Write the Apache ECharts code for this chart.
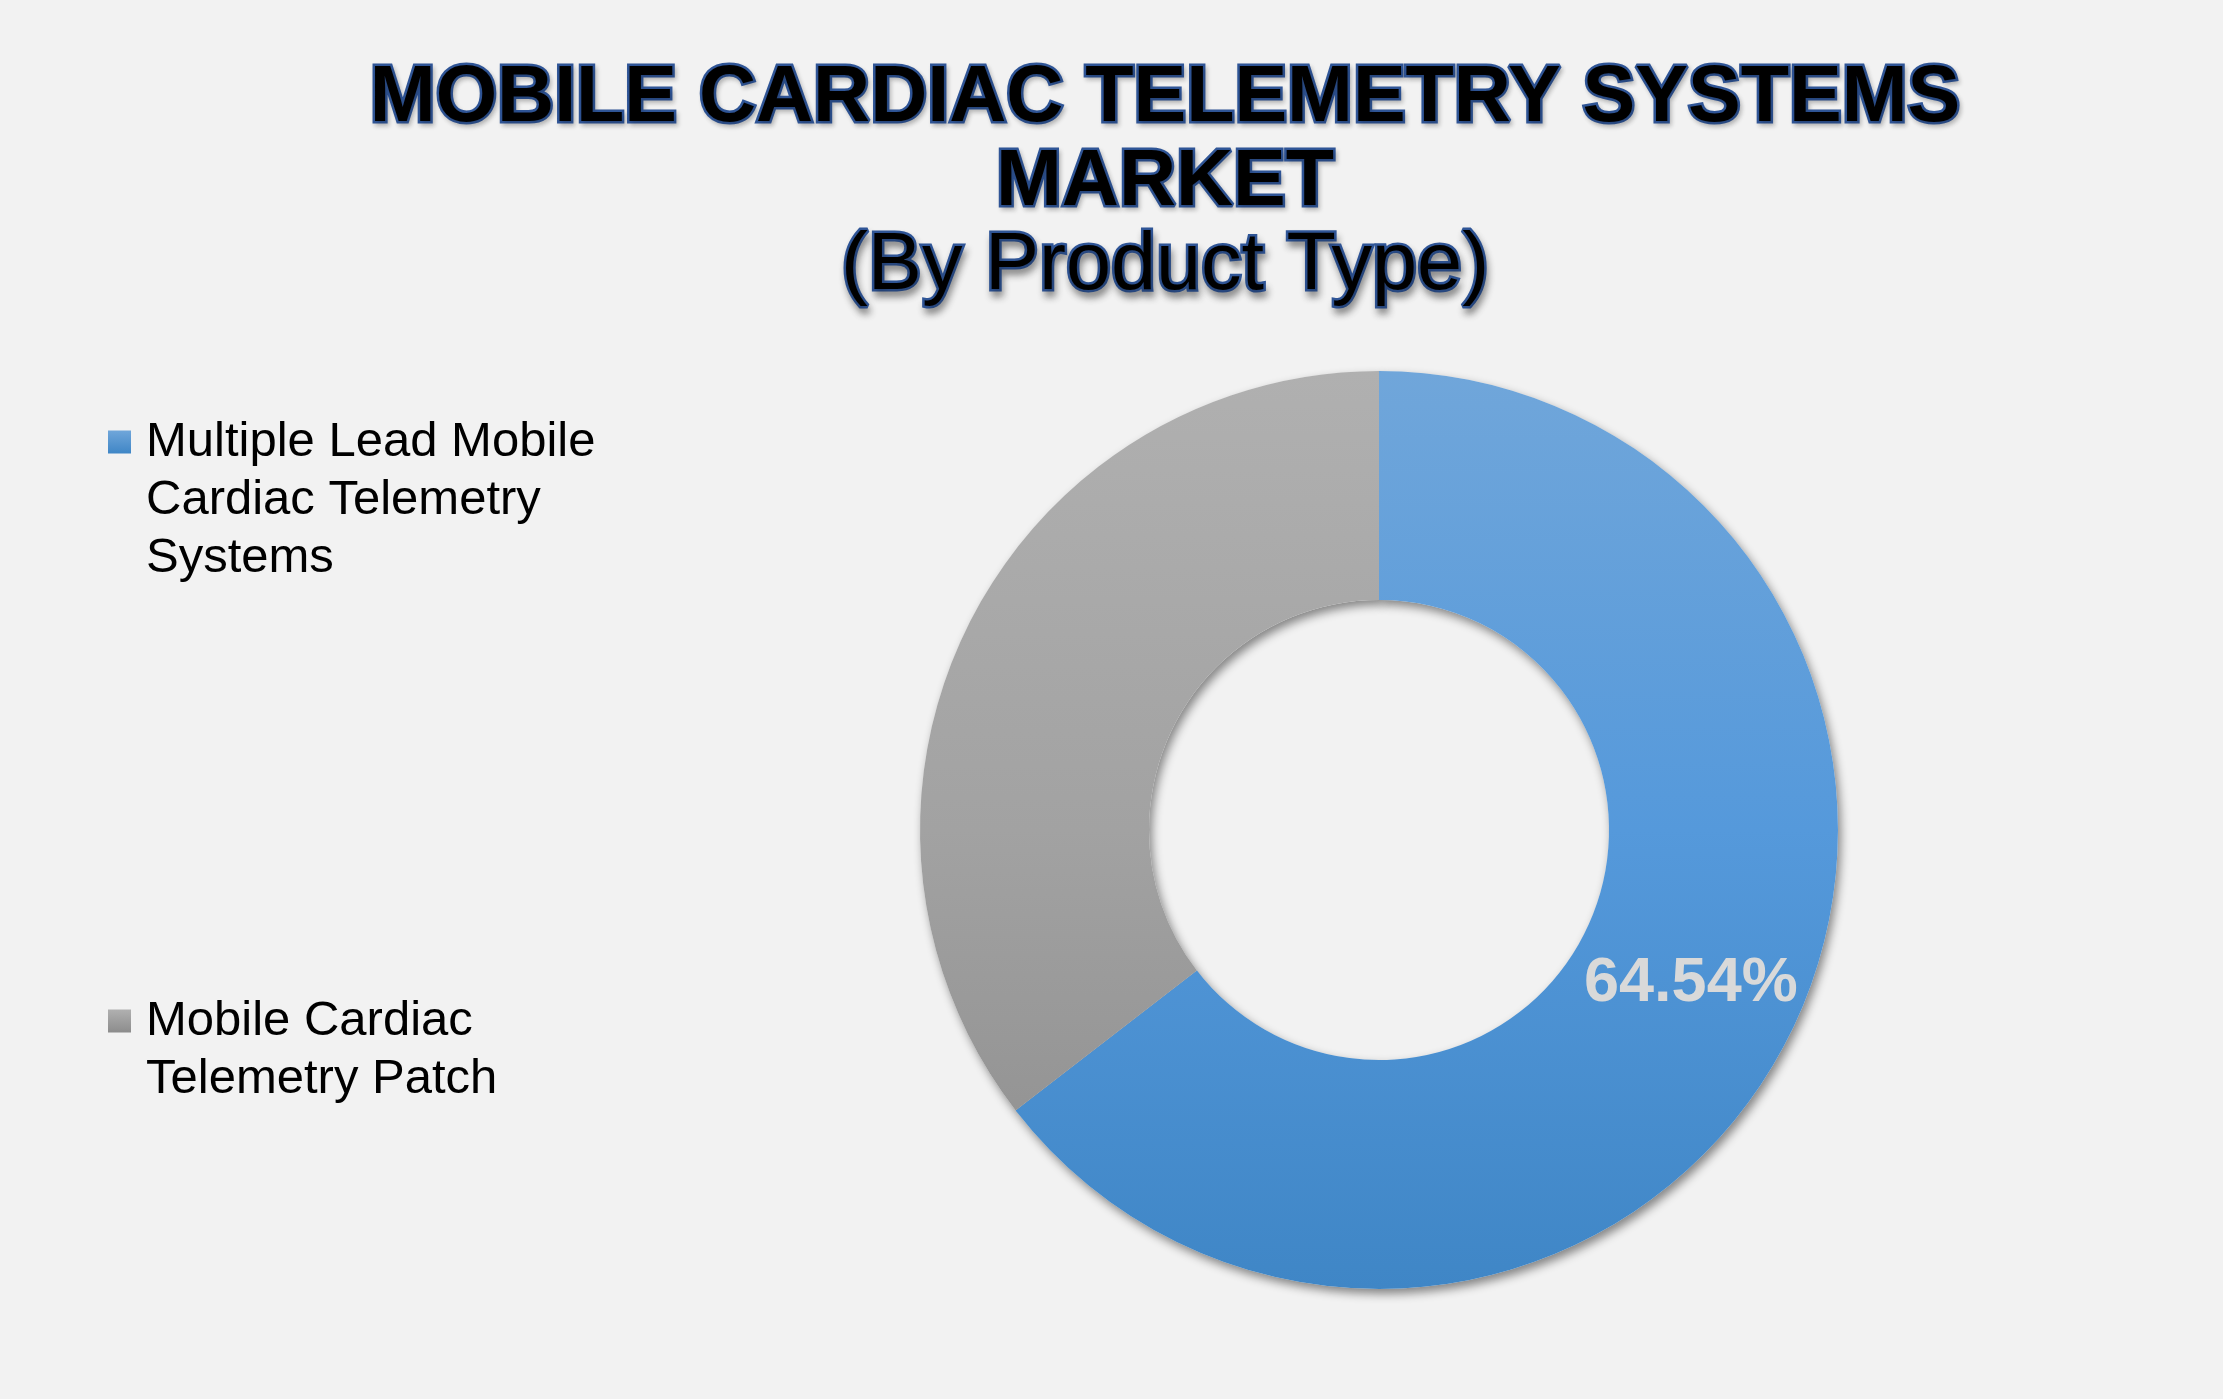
<!DOCTYPE html>
<html>
<head>
<meta charset="utf-8">
<script src="https://cdn.jsdelivr.net/npm/echarts@6/dist/echarts.min.js"></script>
<style>
  html, body { margin: 0; padding: 0; background: #f2f2f2; }
  #chart { width: 2223px; height: 1399px; }
</style>
</head>
<body>
<div id="chart"></div>
<script>
// data
const categories = ['Multiple Lead Mobile\nCardiac Telemetry\nSystems', 'Mobile Cardiac\nTelemetry Patch'];
const shares = [64.54, 35.46];
const showLabel = [true, false];

const font = '"Liberation Sans", Arial, sans-serif';

// one gradient across the whole ring, top light -> bottom dark
const ringTop = 371, ringBottom = 1289;
const sliceColors = [
  ['#70a6da', '#5599db', '#3f86c6'],
  ['#b0b0b0', '#a2a2a2', '#8c8c8c']
];
function ringGradient(c) {
  return new echarts.graphic.LinearGradient(0, ringTop, 0, ringBottom, [
    { offset: 0, color: c[0] },
    { offset: 0.5, color: c[1] },
    { offset: 1, color: c[2] }
  ], true);
}
function iconGradient(c) {
  return new echarts.graphic.LinearGradient(0, 0, 0, 1, [
    { offset: 0, color: c[0] },
    { offset: 1, color: c[2] }
  ]);
}

const legendLine = 58;

const chart = echarts.init(document.getElementById('chart'));
chart.setOption({
  backgroundColor: '#f2f2f2',
  title: [{
    text: 'MOBILE CARDIAC TELEMETRY SYSTEMS\nMARKET',
    left: 1160,
    top: 52,
    textAlign: 'center',
    textStyle: {
      fontFamily: font,
      fontSize: 79,
      fontWeight: 'bold',
      lineHeight: 84,
      color: '#000',
      textBorderColor: '#2f5597',
      textBorderWidth: 5,
      textShadowColor: 'rgba(0,0,0,0.18)',
      textShadowBlur: 4,
      textShadowOffsetX: 2,
      textShadowOffsetY: 3
    }
  }, {
    text: '(By Product Type)',
    left: 1160,
    top: 220,
    textAlign: 'center',
    textStyle: {
      fontFamily: font,
      fontSize: 81,
      fontWeight: 'normal',
      lineHeight: 84,
      color: '#000',
      textBorderColor: '#2f5597',
      textBorderWidth: 5,
      textShadowColor: 'rgba(0,0,0,0.3)',
      textShadowBlur: 7,
      textShadowOffsetX: 2,
      textShadowOffsetY: 6
    }
  }],
  legend: {
    orient: 'vertical',
    left: 108,
    top: 297,
    padding: 0,
    itemWidth: 23,
    itemHeight: 23,
    itemGap: 347,
    icon: 'rect',
    selectedMode: false,
    // blank lines in front keep the marker level with the first text line
    formatter: name => '\n'.repeat(name.split('\n').length - 1) + name,
    textStyle: {
      fontFamily: font,
      fontSize: 49,
      lineHeight: legendLine,
      color: '#000',
      padding: [0, 0, 0, 10]
    },
    data: categories.map((name, i) => ({
      name: name,
      itemStyle: { color: iconGradient(sliceColors[i]) }
    }))
  },
  series: [
    {
      // backdrop that carries the drop shadow
      type: 'pie',
      silent: true,
      center: [1379, 830],
      radius: [230, 459],
      startAngle: 90,
      label: { show: false },
      labelLine: { show: false },
      emphasis: { disabled: true },
      itemStyle: {
        color: '#f2f2f2',
        shadowColor: 'rgba(0,0,0,0.45)',
        shadowBlur: 10,
        shadowOffsetX: 3,
        shadowOffsetY: 5
      },
      data: shares.map(v => ({ value: v }))
    },
    {
      type: 'pie',
      center: [1379, 830],
      radius: [230, 459],
      startAngle: 90,
      clockwise: true,
      emphasis: { disabled: true },
      labelLine: { show: false },
      label: {
        position: 'inside',
        formatter: '{c}%',
        fontFamily: font,
        fontSize: 63,
        fontWeight: 'bold',
        color: '#d9d9d9'
      },
      data: categories.map((name, i) => ({
        name: name,
        value: shares[i],
        itemStyle: { color: ringGradient(sliceColors[i]) },
        label: { show: showLabel[i] }
      }))
    }
  ]
});
</script>
</body>
</html>
